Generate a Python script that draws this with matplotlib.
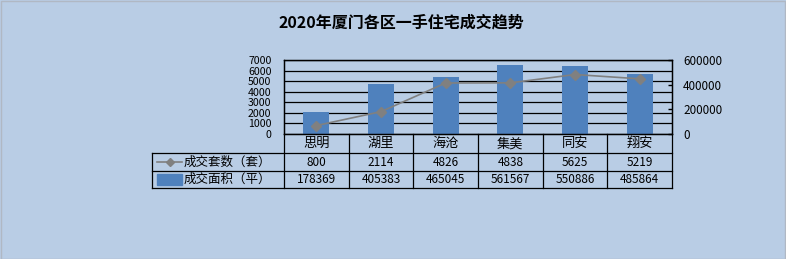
import matplotlib.pyplot as plt
from matplotlib.patches import Rectangle
from matplotlib.lines import Line2D
from matplotlib.transforms import blended_transform_factory

plt.rcParams["font.family"] = ["Noto Sans CJK SC", "DejaVu Sans"]

districts = ["思明", "湖里", "海沧", "集美", "同安", "翔安"]
units = [800, 2114, 4826, 4838, 5625, 5219]            # 成交套数（套）
area = [178369, 405383, 465045, 561567, 550886, 485864]  # 成交面积（平）
unit_label = "成交套数（套）"
area_label = "成交面积（平）"
left_ticks = [0, 1000, 2000, 3000, 4000, 5000, 6000, 7000]
right_ticks = [0, 200000, 400000, 600000]

bg = "#B9CDE5"
bar_color = "#4F81BD"
line_color = "#808080"
lw_grid = 0.9

W, H = 786, 259
fig = plt.figure(figsize=(W / 100, H / 100), dpi=100, facecolor=bg)

# plot area in pixels: x 284..672, y 60..134
ax = fig.add_axes([284 / W, 1 - 134 / H, 388 / W, 74 / H])
ax.set_facecolor("none")
ax2 = ax.twinx()

x = list(range(len(districts)))

# bars on the right scale
ax.bar(x, area, width=0.40, color=bar_color, zorder=2)
ax.set_ylim(0, 600000)
ax.set_xlim(-0.5, len(districts) - 0.5)
ax.yaxis.tick_right()
ax.set_yticks(right_ticks)
ax.set_yticklabels([str(v) for v in right_ticks])
ax.tick_params(axis="y", direction="in", length=3, width=1, pad=8, labelsize=8.4, colors="black")
ax.set_xticks([])

# line on the left scale
ax2.plot(x, units, color=line_color, lw=1.2, marker="D", ms=5.5,
         mfc=line_color, mec=line_color, zorder=3)
ax2.set_ylim(0, 7000)
ax2.yaxis.tick_left()
ax2.set_yticks(left_ticks)
ax2.set_yticklabels([str(v) for v in left_ticks])
ax2.tick_params(axis="y", length=0, pad=9, labelsize=7.6, colors="black")
ax2.set_xticks([])

# horizontal grid lines for the left scale, drawn behind the bars
grid_tr = blended_transform_factory(ax.transAxes, ax2.transData)
ax.hlines(left_ticks, 0, 1, transform=grid_tr, colors="black", lw=lw_grid, zorder=1)

for a in (ax, ax2):
    for s in a.spines.values():
        s.set_color("black")
        s.set_linewidth(lw_grid)

# data table under the plot
tr = blended_transform_factory(ax.transData, ax.transAxes)
x_left = -2.546
x_right = len(districts) - 0.5
rows_y = [0, -0.261, -0.496, -0.734]

for yy in rows_y[1:]:
    ax.add_line(Line2D([x_left, x_right], [yy, yy], transform=tr, color="black",
                       lw=lw_grid, clip_on=False))
ax.add_line(Line2D([x_left, x_left], [rows_y[1], rows_y[3]], transform=tr,
                   color="black", lw=lw_grid, clip_on=False))
for i in range(len(districts) + 1):
    xv = i - 0.5
    ax.add_line(Line2D([xv, xv], [0, rows_y[3]], transform=tr, color="black",
                       lw=lw_grid, clip_on=False))

for i, d in enumerate(districts):
    ax.text(i, (rows_y[0] + rows_y[1]) / 2, d, transform=tr, ha="center",
            va="center", fontsize=9.5, clip_on=False)
    ax.text(i, (rows_y[1] + rows_y[2]) / 2, str(units[i]), transform=tr,
            ha="center", va="center", fontsize=8.5, clip_on=False)
    ax.text(i, (rows_y[2] + rows_y[3]) / 2, str(area[i]), transform=tr,
            ha="center", va="center", fontsize=8.5, clip_on=False)

# legend keys inside the table
y1 = (rows_y[1] + rows_y[2]) / 2
y2 = (rows_y[2] + rows_y[3]) / 2
ax.add_line(Line2D([-2.469, -2.082], [y1, y1], transform=tr, color=line_color,
                   lw=1.2, clip_on=False))
ax.add_line(Line2D([-2.263], [y1], transform=tr, color=line_color, marker="D",
                   ms=4, clip_on=False))
ax.add_patch(Rectangle((-2.469, rows_y[3] + 0.04), 0.387, rows_y[2] - rows_y[3] - 0.08,
                       transform=tr, color=bar_color, clip_on=False))
ax.text(-2.057, y1, unit_label, transform=tr, ha="left", va="center",
        fontsize=9, clip_on=False)
ax.text(-2.057, y2, area_label, transform=tr, ha="left", va="center",
        fontsize=9, clip_on=False)

fig.text(401 / W, 1 - 23 / H, "2020年厦门各区一手住宅成交趋势", ha="center",
         va="center", fontsize=11.5, fontweight="bold")

fig.patches.append(Rectangle((0.5 / W, 0.5 / H), 1 - 1.5 / W, 1 - 1.5 / H,
                             transform=fig.transFigure, fill=False,
                             edgecolor="#b0b8c4", lw=1))

fig.savefig("out.png", dpi=100, facecolor=bg)
